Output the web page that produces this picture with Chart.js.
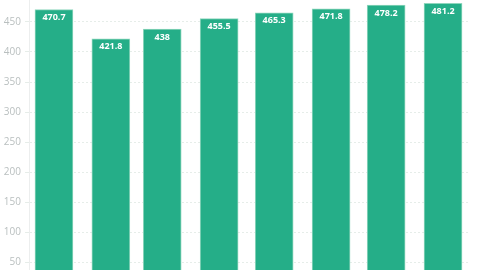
<!DOCTYPE html>
<html>
<head>
<meta charset="utf-8">
<script src="https://cdn.jsdelivr.net/npm/chart.js@4/dist/chart.umd.min.js"></script>
<style>
  html, body { margin: 0; padding: 0; background: #fff; }
  #wrap { position: relative; width: 480px; height: 270px; overflow: hidden; }
  #box { position: absolute; left: 0; top: -20px; width: 480px; height: 340px; }
</style>
</head>
<body>
<div id="wrap"><div id="box"><canvas id="chart"></canvas></div></div>
<script>
// monthly values
const months = ["2023-01", "2023-02", "2023-03", "2023-04", "2023-05", "2023-06", "2023-07", "2023-08"];
const values = [470.7, 421.8, 438, 455.5, 465.3, 471.8, 478.2, 481.2];
const yTicks = [0, 50, 100, 150, 200, 250, 300, 350, 400, 450, 500];

const DAY = 86400000;
const times = months.map(m => Date.parse(m + "-01"));
const points = times.map((t, i) => ({ x: t, y: values[i] }));

const barLabels = {
  id: "barLabels",
  afterDatasetsDraw(chart) {
    const ctx = chart.ctx;
    const meta = chart.getDatasetMeta(0);
    ctx.save();
    ctx.fillStyle = "#ffffff";
    ctx.font = "bold 9px 'Open Sans', sans-serif";
    ctx.textAlign = "center";
    ctx.textBaseline = "middle";
    meta.data.forEach((bar, i) => {
      ctx.fillText(String(values[i]), bar.x, bar.y + 8);
    });
    ctx.restore();
  }
};

new Chart(document.getElementById("chart").getContext("2d"), {
  type: "bar",
  data: {
    datasets: [{
      data: points,
      backgroundColor: "#25ae88",
      borderColor: "#8fd6bd",
      borderWidth: 1,
      barThickness: 38
    }]
  },
  options: {
    responsive: true,
    maintainAspectRatio: false,
    animation: false,
    layout: { padding: { top: 12, right: 12, bottom: 28, left: 0 } },
    plugins: { legend: { display: false }, tooltip: { enabled: false } },
    scales: {
      x: {
        type: "linear",
        display: false,
        offset: false,
        bounds: "ticks",
        min: times[0] - 13.6 * DAY,
        max: times[times.length - 1] + 13.6 * DAY
      },
      y: {
        min: 0,
        max: 500,
        afterFit(scale) { scale.width = 29; },
        afterBuildTicks(scale) { scale.ticks = yTicks.map(v => ({ value: v })); },
        border: { display: true, color: "#eceeee", dash: [2, 2] },
        grid: { color: "#e6ede9", tickLength: 4, drawTicks: true },
        ticks: {
          color: "#b9bfbf",
          font: { size: 10, family: "'Open Sans', sans-serif" },
          padding: 4
        }
      }
    }
  },
  plugins: [barLabels]
});
</script>
</body>
</html>
